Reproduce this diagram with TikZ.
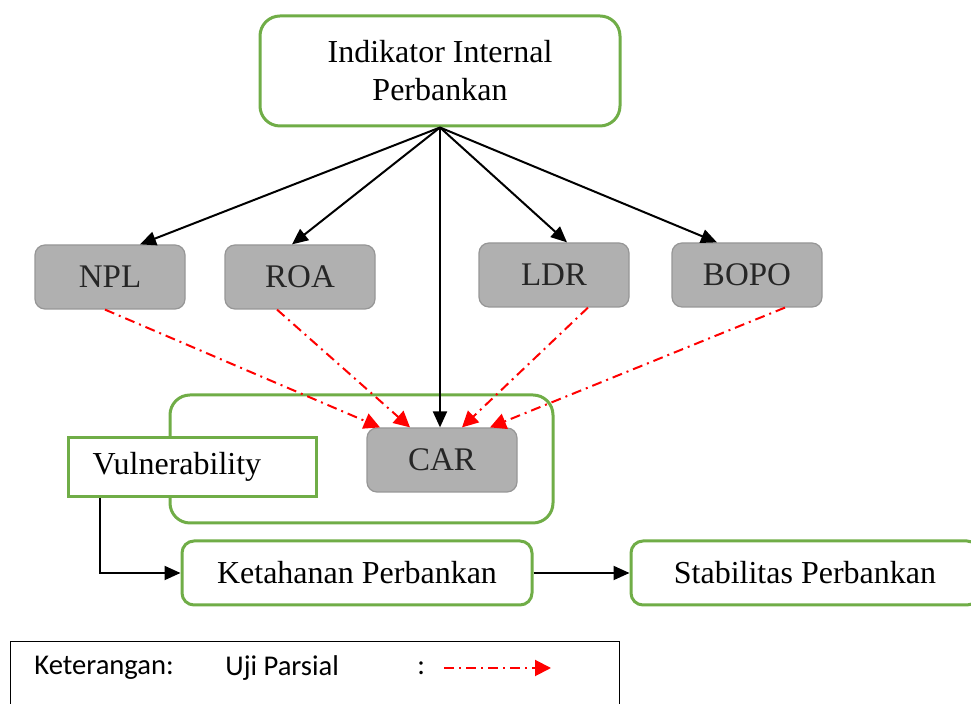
\documentclass[tikz,border=0pt]{standalone}
\usepackage{fontspec}
\setmainfont{Liberation Serif}
\newfontfamily\legendfont{Carlito}
\usetikzlibrary{arrows.meta,positioning}

\definecolor{hijau}{RGB}{112,173,71}
\definecolor{abu}{RGB}{176,176,176}

\tikzset{
    greenbox/.style = {draw = hijau, line width = 1.5pt, rounded corners = 10pt, fill = white,
        align = center, font = \fontsize{16}{19}\selectfont},
    greybox/.style = {draw = abu!85!black, fill = abu, rounded corners = 5pt, line width = 0.6pt,
        minimum width = 75pt, minimum height = 32pt, text = black!85, font = \fontsize{16.5}{19}\selectfont},
    panah/.style = {-{Triangle[length = 8pt, width = 7pt]}, line width = 1pt},
    parsial/.style = {red, line width = 1pt, dash pattern = on 5pt off 2.5pt on 1pt off 2.5pt,
        -{Triangle[length = 8pt, width = 8pt]}},
    legend/.style = {inner sep = 0pt, anchor = west, font = \legendfont\fontsize{14.3}{17}\selectfont}
}

\begin{document}
\begin{tikzpicture}[x = 0.5pt, y = -0.5pt]
        \clip ( 0, 0 ) rectangle ( 971, 704 );

        % indikator
        \node [greenbox, minimum width = 180pt, minimum height = 55pt] (indikator) at ( 440, 71 ) {Indikator Internal\\Perbankan};

        % variabel
        \node [greybox] (npl) at ( 110, 277 ) {NPL};
        \node [greybox] (roa) at ( 300, 277 ) {ROA};
        \node [greybox] (ldr) at ( 554, 275 ) {LDR};
        \node [greybox] (bopo) at ( 747, 275 ) {BOPO};

        % wadah CAR
        \node [draw = hijau, line width = 1.5pt, rounded corners = 10pt, minimum width = 191.5pt, minimum height = 64pt] (wadah) at ( 361.5, 459 ) {};
        \node [greybox] (car) at ( 442, 460 ) {CAR};
        \node [draw = hijau, line width = 1.5pt, fill = white, anchor = west, inner xsep = 12pt, text width = 100pt,
            minimum height = 29.5pt, align = left, font = \fontsize{16}{19}\selectfont] (vul) at ( 67, 467 ) {Vulnerability};

        % ketahanan dan stabilitas
        \node [greenbox, rounded corners = 6pt, minimum width = 175pt, minimum height = 32pt] (ketahanan) at ( 357, 573 ) {Ketahanan Perbankan};
        \node [greenbox, rounded corners = 6pt, minimum width = 174pt, minimum height = 32pt] (stabilitas) at ( 805, 573 ) {Stabilitas Perbankan};

        % panah hitam
        \foreach \v/\dx in {npl/15pt, roa/-4pt, ldr/6.5pt, bopo/-15pt}
            \draw [panah] (indikator.south) -- ([xshift = \dx] \v.north);
        \draw [panah] (indikator.south) -- (indikator.south |- car.north);
        \draw [panah] ([xshift = 16.5pt] vul.south west) |- (ketahanan.west);
        \draw [panah] (ketahanan) -- (stabilitas);

        % uji parsial
        \draw [parsial] ([xshift = -2.5pt] npl.south) -- ([xshift = -31pt] car.north);
        \draw [parsial] ([xshift = -11.5pt] roa.south) -- ([xshift = -16pt] car.north);
        \draw [parsial] ([xshift = 17pt] ldr.south) -- ([xshift = 10pt] car.north);
        \draw [parsial] ([xshift = 19pt] bopo.south) -- ([xshift = 24pt] car.north);

        % keterangan
        \node [draw, line width = 0.6pt, minimum width = 304.5pt, minimum height = 40pt, anchor = north west] (legenda) at ( 10, 641 ) {};
        \node [legend] (ket) at ( 34, 668 ) {Keterangan:};
        \node [legend] (uji) at ( 225, 668 ) {Uji Parsial};
        \node [legend] (titik) at ( 417, 668 ) {:};
        \coordinate (ujiawal) at ( 444, 668 );
        \coordinate (ujiakhir) at ( 551, 668 );
        \draw [parsial] (ujiawal) -- (ujiakhir);
\end{tikzpicture}
\end{document}
